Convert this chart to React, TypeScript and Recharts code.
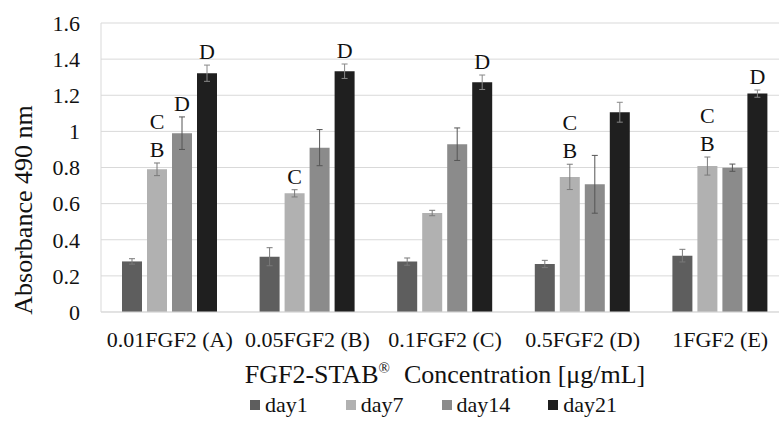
import {
  Bar,
  BarChart,
  CartesianGrid,
  ErrorBar,
  LabelList,
  Legend,
  XAxis,
  YAxis,
} from "recharts";

const categories = [
  "0.01FGF2 (A)",
  "0.05FGF2 (B)",
  "0.1FGF2 (C)",
  "0.5FGF2 (D)",
  "1FGF2 (E)",
];

const seriesNames = ["day1", "day7", "day14", "day21"];

const day1 = [0.28, 0.306, 0.279, 0.266, 0.312];
const day7 = [0.79, 0.657, 0.548, 0.748, 0.808];
const day14 = [0.99, 0.91, 0.929, 0.707, 0.799];
const day21 = [1.322, 1.333, 1.272, 1.106, 1.209];

const day1Err = [0.015, 0.05, 0.02, 0.02, 0.035];
const day7Err = [0.035, 0.02, 0.015, 0.07, 0.05];
const day14Err = [0.09, 0.1, 0.09, 0.16, 0.02];
const day21Err = [0.045, 0.04, 0.04, 0.055, 0.02];

// significance letters, bottom line first
const day7Sig = ["BC", "C", "", "BC", "BC"];
const day14Sig = ["D", "", "", "", ""];
const day21Sig = ["D", "D", "D", "", "D"];

const yTicks = [0, 0.2, 0.4, 0.6, 0.8, 1, 1.2, 1.4, 1.6];

const colors = {
  day1: "#5e5e5e",
  day7: "#b1b1b1",
  day14: "#8b8b8b",
  day21: "#1f1f1f",
};

const data = categories.map((name, i) => ({
  name,
  day1: day1[i],
  day7: day7[i],
  day14: day14[i],
  day21: day21[i],
  day1Err: day1Err[i],
  day7Err: day7Err[i],
  day14Err: day14Err[i],
  day21Err: day21Err[i],
}));

const FONT = "Liberation Serif";
const TEXT = "#111";

const sigLabel =
  (values: number[], errs: number[], letters: string[]) => (props: any) => {
    const { x, y, width, height, index } = props;
    const str = letters[index] || "";
    if (!str) return null;
    const perUnit = height / values[index];
    const errTop = y - errs[index] * perUnit;
    return (
      <g>
        {str.split("").map((ch, k) => (
          <text
            key={k}
            x={x + width / 2}
            y={errTop - 6 - k * 28}
            textAnchor="middle"
            fontSize={22}
            style={{ fontFamily: FONT }}
            fill={TEXT}
          >
            {ch}
          </text>
        ))}
      </g>
    );
  };

const renderLegend = (props: any) => {
  const payload = [...(props.payload || [])].sort(
    (a: any, b: any) => seriesNames.indexOf(a.value) - seriesNames.indexOf(b.value)
  );
  return (
    <div style={{ display: "flex", fontFamily: FONT, fontSize: 22, color: TEXT }}>
      {payload.map((p: any) => (
        <div
          key={p.value}
          style={{ display: "flex", alignItems: "center", marginRight: 38 }}
        >
          <span
            style={{
              width: 10,
              height: 10,
              background: p.color,
              display: "inline-block",
              marginRight: 5,
            }}
          />
          <span>{p.value}</span>
        </div>
      ))}
    </div>
  );
};

const XTitle = (props: any) => {
  const { viewBox } = props;
  const cx = viewBox.x + viewBox.width / 2;
  return (
    <text
      x={cx}
      y={383}
      textAnchor="middle"
      fontSize={26}
      style={{ fontFamily: FONT }}
      fill={TEXT}
    >
      FGF2-STAB
      <tspan fontSize={15} dy={-10}>
        ®
      </tspan>
      <tspan dy={10} dx={14}>
        Concentration [μg/mL]
      </tspan>
    </text>
  );
};

const YTitle = () => (
  <text
    x={0}
    y={0}
    transform="translate(32, 210) rotate(-90)"
    textAnchor="middle"
    fontSize={26}
    style={{ fontFamily: FONT }}
    fill={TEXT}
  >
    Absorbance 490 nm
  </text>
);

export default function App() {
  return (
    <div
      style={{
        position: "absolute",
        left: 0,
        top: 0,
        width: 779,
        height: 421,
        overflow: "hidden",
        background: "#fff",
        fontFamily: FONT,
      }}
    >
      <BarChart
        width={790}
        height={421}
        data={data}
        margin={{ top: 23, right: 1, left: 0, bottom: 49 }}
        barSize={20}
        barGap={5}
        style={{ fontFamily: FONT }}
      >
        <CartesianGrid vertical={false} stroke="#d9d9d9" />
        <XAxis
          dataKey="name"
          height={60}
          tickLine={false}
          axisLine={{ stroke: "#d9d9d9" }}
          tickSize={0}
          tickMargin={19}
          interval={0}
          tick={{ fontSize: 22, fill: TEXT, style: { fontFamily: FONT } }}
          label={<XTitle />}
        />
        <YAxis
          width={101}
          domain={[0, 1.6]}
          ticks={yTicks}
          tickLine={false}
          axisLine={{ stroke: "#d9d9d9" }}
          tickSize={0}
          tickMargin={21}
          tick={{ fontSize: 22, fill: TEXT, style: { fontFamily: FONT } }}
          label={<YTitle />}
        />
        <Legend
          layout="horizontal"
          verticalAlign="middle"
          align="center"
          wrapperStyle={{ top: 392, left: 250, width: 500 }}
          content={renderLegend}
        />
        <Bar dataKey="day1" name="day1" fill={colors.day1} isAnimationActive={false}>
          <ErrorBar dataKey="day1Err" width={3} stroke="#7a7a7a" strokeWidth={1} />
        </Bar>
        <Bar dataKey="day7" name="day7" fill={colors.day7} isAnimationActive={false}>
          <ErrorBar dataKey="day7Err" width={3} stroke="#7a7a7a" strokeWidth={1} />
          <LabelList dataKey="day7" content={sigLabel(day7, day7Err, day7Sig)} />
        </Bar>
        <Bar dataKey="day14" name="day14" fill={colors.day14} isAnimationActive={false}>
          <ErrorBar dataKey="day14Err" width={3} stroke="#555" strokeWidth={1} />
          <LabelList dataKey="day14" content={sigLabel(day14, day14Err, day14Sig)} />
        </Bar>
        <Bar dataKey="day21" name="day21" fill={colors.day21} isAnimationActive={false}>
          <ErrorBar dataKey="day21Err" width={3} stroke="#888" strokeWidth={1} />
          <LabelList dataKey="day21" content={sigLabel(day21, day21Err, day21Sig)} />
        </Bar>
      </BarChart>
    </div>
  );
}
